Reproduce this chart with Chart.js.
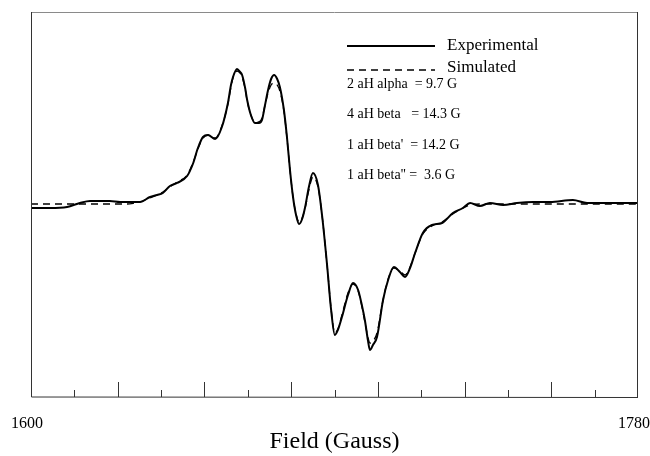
<!DOCTYPE html>
<html>
<head>
<meta charset="utf-8">
<script src="https://cdn.jsdelivr.net/npm/chart.js@4"></script>
<style>
  html, body { margin: 0; padding: 0; background: #fff; }
  #wrap { width: 650px; height: 456px; }
</style>
</head>
<body>
<div id="wrap"><canvas id="myChart" width="650" height="456"></canvas></div>
<script>
// field positions (Gauss)
const fieldG = [1600.0, 1605.6, 1610.7, 1614.5, 1617.5, 1620.5, 1623.4, 1626.4, 1628.5, 1630.8,
  1632.3, 1635.3, 1637.4, 1639.1, 1641.2, 1643.3, 1646.3, 1648.0, 1649.5, 1651.0,
  1652.5, 1654.6, 1656.6, 1658.4, 1659.3, 1659.9, 1661.1, 1662.0, 1662.6, 1663.5,
  1664.1, 1665.2, 1666.4, 1667.6, 1668.5, 1669.4, 1670.3, 1671.2, 1672.1, 1673.0,
  1673.8, 1675.0, 1675.9, 1676.8, 1677.7, 1678.6, 1679.5, 1680.4, 1681.3, 1682.4,
  1683.6, 1685.1, 1686.3, 1687.8, 1689.0, 1690.1, 1691.0, 1692.2, 1694.0, 1695.5,
  1697.0, 1698.1, 1699.0, 1699.9, 1700.5, 1701.4, 1702.6, 1704.4, 1705.9, 1707.6,
  1709.4, 1710.9, 1712.4, 1713.9, 1716.2, 1718.9, 1721.9, 1725.1, 1728.1, 1730.2,
  1733.1, 1736.1, 1740.0, 1744.1, 1748.9, 1753.9, 1760.7, 1764.9, 1770.8, 1780.0];

const experimental = [-3, -3, -2, 2, 4, 4, 4, 3, 3, 3,
  3, 8, 10, 12, 19, 22, 29, 41, 57, 68,
  70, 66, 78, 102, 120, 128, 136, 133, 130, 117,
  105, 90, 82, 82, 85, 100, 115, 126, 130, 126,
  118, 95, 68, 35, 8, -10, -19, -14, -2, 18,
  32, 20, -10, -60, -105, -130, -125, -112, -90, -78,
  -85, -100, -115, -135, -145, -140, -132, -95, -75, -62,
  -67, -72, -63, -48, -28, -20, -18, -8, -3, 2,
  -1, 2, 0, 2, 3, 3, 5, 2, 2, 2];

const simulated = [1, 1, 1, 1, 1, 1, 1, 1, 1, 2,
  3, 7, 10, 13, 18, 23, 30, 42, 56, 67,
  70, 67, 79, 101, 118, 127, 134, 132, 128, 116,
  104, 90, 83, 83, 87, 100, 112, 120, 122, 120,
  114, 94, 67, 35, 8, -9, -17, -13, -3, 15,
  28, 18, -10, -60, -104, -128, -124, -110, -88, -79,
  -86, -101, -117, -132, -138, -136, -128, -95, -74, -63,
  -66, -70, -62, -48, -29, -21, -17, -9, -3, 0,
  1, 1, 1, 1, 1, 1, 1, 1, 1, 1];

const xMin = 1600;
const xMax = 1780;
const xTickLabels = ["1600", "1780"];
const tickCount = 14;
const legendNames = ["Experimental", "Simulated"];
const couplings = ["2 aH alpha  = 9.7 G", "4 aH beta   = 14.3 G", "1 aH beta'  = 14.2 G", "1 aH beta'' =  3.6 G"];

const serif = "'Liberation Serif', 'DejaVu Serif', serif";

const framePlugin = {
  id: "frame",
  afterDraw(chart) {
    const { ctx, chartArea } = chart;
    const { left, right, top, bottom } = chartArea;
    const xs = chart.scales.x;
    ctx.save();
    // frame
    ctx.lineWidth = 1;
    ctx.strokeStyle = "#8a8a8a";
    ctx.beginPath();
    ctx.moveTo(left, top + 0.5);
    ctx.lineTo(right, top + 0.5);
    ctx.stroke();
    ctx.strokeStyle = "#333";
    ctx.beginPath();
    ctx.moveTo(left + 0.5, top);
    ctx.lineTo(left + 0.5, bottom);
    ctx.lineTo(right, bottom + 0.5);
    ctx.moveTo(right - 0.5, top);
    ctx.lineTo(right - 0.5, bottom);
    ctx.stroke();
    // inner ticks
    for (let i = 1; i < tickCount; i++) {
      const v = xMin + (i * (xMax - xMin)) / tickCount;
      const px = Math.round(xs.getPixelForValue(v)) + 0.5;
      const len = i % 2 === 0 ? 15 : 7;
      ctx.beginPath();
      ctx.moveTo(px, bottom);
      ctx.lineTo(px, bottom - len);
      ctx.stroke();
    }
    // legend
    const lx = left + 316;
    ctx.strokeStyle = "#000";
    ctx.fillStyle = "#000";
    ctx.lineWidth = 2;
    ctx.beginPath();
    ctx.moveTo(lx, top + 34);
    ctx.lineTo(lx + 88, top + 34);
    ctx.stroke();
    ctx.lineWidth = 1.3;
    ctx.setLineDash([7, 5]);
    ctx.beginPath();
    ctx.moveTo(lx, top + 58);
    ctx.lineTo(lx + 88, top + 58);
    ctx.stroke();
    ctx.setLineDash([]);
    ctx.font = "17px " + serif;
    ctx.textBaseline = "middle";
    ctx.fillText(legendNames[0], lx + 100, top + 34);
    ctx.fillText(legendNames[1], lx + 100, top + 56);
    ctx.font = "14px " + serif;
    couplings.forEach((t, i) => {
      ctx.fillText(t, lx, top + 72 + i * 30.5);
    });
    ctx.restore();
  },
};

const chartCanvas = document.querySelector("#myChart");

new Chart(chartCanvas, {
  type: "line",
  data: {
    datasets: [
      {
        label: legendNames[0],
        data: fieldG.map((g, i) => ({ x: g, y: experimental[i] })),
        borderColor: "#000",
        borderWidth: 2,
        pointRadius: 0,
        cubicInterpolationMode: "monotone",
      },
      {
        label: legendNames[1],
        data: fieldG.map((g, i) => ({ x: g, y: simulated[i] })),
        borderColor: "#000",
        borderWidth: 1.3,
        borderDash: [7, 5],
        pointRadius: 0,
        cubicInterpolationMode: "monotone",
      },
    ],
  },
  options: {
    responsive: false,
    animation: false,
    layout: { padding: { left: 31, right: 12, top: 12, bottom: 0 } },
    plugins: { legend: { display: false }, tooltip: { enabled: false } },
    scales: {
      x: {
        type: "linear",
        min: xMin,
        max: xMax,
        afterBuildTicks: (scale) => {
          scale.ticks = [{ value: xMin }, { value: xMax }];
        },
        afterFit: (scale) => {
          scale.height = 59;
          scale.paddingLeft = 0;
          scale.paddingRight = 0;
        },
        ticks: {
          padding: 17,
          labelOffset: -4,
          color: "#000",
          font: { family: serif, size: 16 },
          maxRotation: 0,
          autoSkip: false,
          callback: (v, i) => xTickLabels[i],
        },
        grid: { display: false, drawTicks: false },
        border: { display: false },
        title: {
          display: true,
          text: "Field (Gauss)",
          color: "#000",
          font: { family: serif, size: 24 },
          padding: { top: 0, bottom: 0 },
        },
      },
      y: {
        display: false,
        min: -192,
        max: 193,
      },
    },
  },
  plugins: [framePlugin],
});
</script>
</body>
</html>
